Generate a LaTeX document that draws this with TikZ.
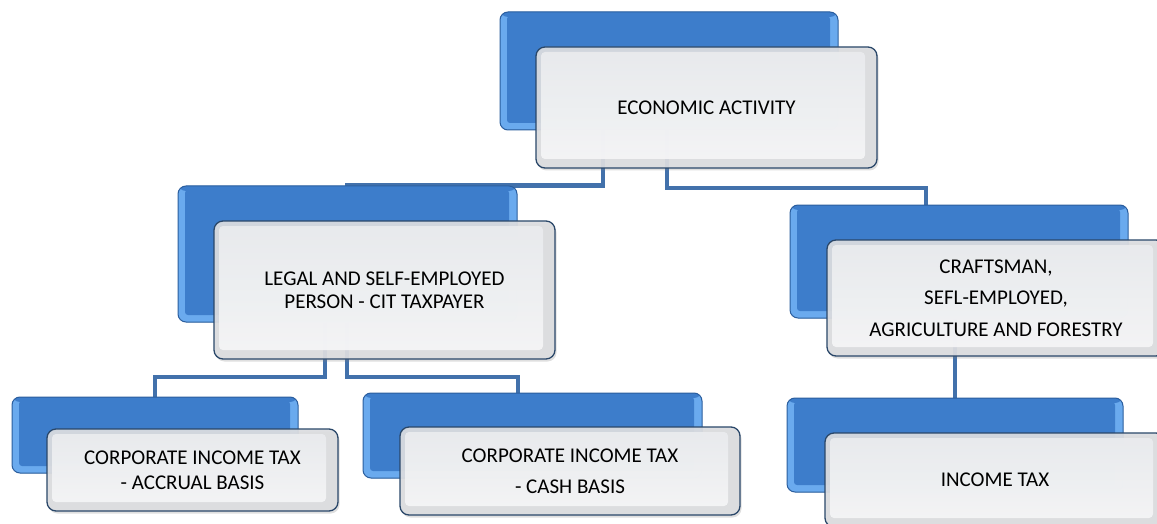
\documentclass[tikz,border=0pt]{standalone}
\usepackage{fontspec}
\setmainfont{Carlito}
\usetikzlibrary{shadows}
\pgfdeclarelayer{bg}
\pgfsetlayers{bg,main}
\definecolor{bluef}{HTML}{3D7DCB}
\definecolor{bluebev}{HTML}{6AAAEE}
\definecolor{bluedark}{HTML}{2F66AC}
\definecolor{blueedge}{HTML}{2B5E9E}
\definecolor{facetop}{HTML}{E9EBEE}
\definecolor{facebot}{HTML}{F6F6F7}
\definecolor{frontbev}{HTML}{DCDDE0}
\definecolor{frontedge}{HTML}{2A4769}
\definecolor{conncol}{HTML}{4271AB}
\tikzset{
  backbox/.style={rectangle, rounded corners=8pt, draw=blueedge, line width=1pt,
    fill=bluebev, inner sep=0pt,
    path picture={
      \fill[bluedark] ([shift={(0pt,-12pt)}]path picture bounding box.south west) rectangle (path picture bounding box.south east);
      \fill[bluef, rounded corners=3pt] ([shift={(7pt,-4pt)}]path picture bounding box.north west) rectangle ([shift={(-8pt,7pt)}]path picture bounding box.south east);
      \fill[bluef] (path picture bounding box.north west) rectangle ([shift={(0pt,-5pt)}]path picture bounding box.north east);
    }},
  frontbox/.style={rectangle, rounded corners=9pt, draw=frontedge, line width=1.3pt,
    fill=frontbev, fill opacity=0.93, text opacity=1, inner sep=0pt, align=center,
    drop shadow={shadow xshift=1.5pt, shadow yshift=-2.5pt, opacity=0.25},
    path picture={
      \shade[top color=facetop, bottom color=facebot, rounded corners=4pt] ([shift={(5pt,-5pt)}]path picture bounding box.north west) rectangle ([shift={(-12pt,9pt)}]path picture bounding box.south east);
    }},
  conn/.style={draw=conncol, line width=4.5pt}
}
\begin{document}
\begin{tikzpicture}[x=1pt,y=-1pt]
\clip (0,0) rectangle (1157,524);

% back boxes
\node[backbox, minimum width=338pt, minimum height=118pt] (bT) at (669,71) {};
\node[backbox, minimum width=339pt, minimum height=136pt] (bL) at (347.5,254) {};
\node[backbox, minimum width=286pt, minimum height=76pt] (bA) at (155,435) {};
\node[backbox, minimum width=339pt, minimum height=85pt] (bC) at (532.5,435.5) {};
\node[backbox, minimum width=338pt, minimum height=113pt] (bR) at (959,261.5) {};
\node[backbox, minimum width=336pt, minimum height=94pt] (bI) at (955,445) {};

% front boxes
\node[frontbox, minimum width=341pt, minimum height=121pt, font=\fontsize{21}{23}\selectfont] (fT) at (706.5,107.5) {ECONOMIC ACTIVITY};
\node[frontbox, minimum width=341pt, minimum height=138pt, font=\fontsize{21}{23}\selectfont] (fL) at (384.5,290) {LEGAL AND SELF-EMPLOYED\\PERSON - CIT TAXPAYER};
\node[frontbox, minimum width=291pt, minimum height=82pt, font=\fontsize{21}{25}\selectfont] (fA) at (192.5,470) {CORPORATE INCOME TAX\\- ACCRUAL BASIS};
\node[frontbox, minimum width=340pt, minimum height=88pt, font=\fontsize{21}{31}\selectfont] (fC) at (570,471) {CORPORATE INCOME TAX\\- CASH BASIS};
\node[frontbox, minimum width=338pt, minimum height=116pt, font=\fontsize{21}{31.5}\selectfont] (fR) at (996,298) {CRAFTSMAN,\\SEFL-EMPLOYED,\\AGRICULTURE AND FORESTRY};
\node[frontbox, minimum width=340pt, minimum height=94pt, font=\fontsize{21}{23}\selectfont] (fI) at (995,480) {INCOME TAX};

% background and connectors
\begin{pgfonlayer}{bg}
\fill[white] (0,0) rectangle (1157,524);
\draw[conn] (603,0 |- bT.south) |- (345,0 |- bL.north);
\draw[conn] (667,0 |- bT.south) |- (926,188) -- (926,0 |- bR.north);
\draw[conn] (325,0 |- bL.south) |- (155,377) -- (155,0 |- bA.north);
\draw[conn] (347,0 |- bL.south) |- (518,377) -- (518,0 |- bC.north);
\draw[conn] (955,0 |- bR.south) -- (955,0 |- bI.north);
\end{pgfonlayer}
\end{tikzpicture}
\end{document}
